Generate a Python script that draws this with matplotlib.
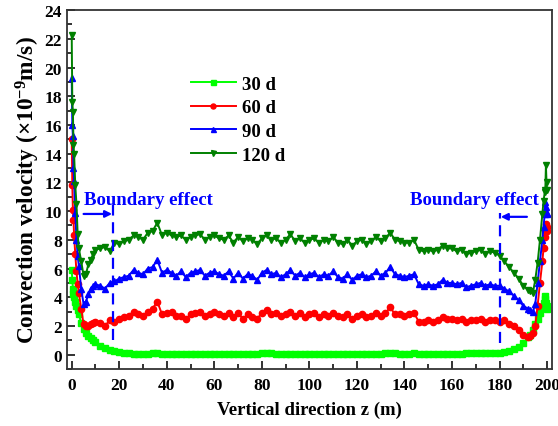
import matplotlib
matplotlib.use("Agg")
import matplotlib.pyplot as plt
from matplotlib.ticker import MultipleLocator

plt.rcParams['font.family'] = ['Liberation Serif', 'DejaVu Serif']
plt.rcParams['font.weight'] = 'bold'
plt.rcParams['mathtext.fontset'] = 'custom'
plt.rcParams['mathtext.rm'] = 'Liberation Serif:bold'
plt.rcParams['mathtext.bf'] = 'Liberation Serif:bold'
plt.rcParams['mathtext.default'] = 'bf'

# depth of the sampling points (m), refined near both boundaries
z = [0, 0.25, 0.5, 0.75, 1, 1.5, 2, 2.5, 3, 4, 5, 6, 7, 8, 9, 10,
     12, 14, 16, 18, 20, 22, 24, 26, 28, 30, 32, 34, 36, 38, 40,
     42, 44, 46, 48, 50, 52, 54, 56, 58, 60, 62, 64, 66, 68, 70,
     72, 74, 76, 78, 80, 82, 84, 86, 88, 90, 92, 94, 96, 98, 100,
     102, 104, 106, 108, 110, 112, 114, 116, 118, 120, 122, 124, 126, 128, 130,
     132, 134, 136, 138, 140, 142, 144, 146, 148, 150, 152, 154, 156, 158, 160,
     162, 164, 166, 168, 170, 172, 174, 176, 178, 180, 182, 184, 186, 188, 190,
     192, 193, 194, 195, 196, 197, 198, 198.5, 199, 199.25, 199.5, 199.75, 200]

v30 = [5.9, 5.2, 4.6, 4.2, 4.0, 3.7, 3.4, 3.1, 2.8, 2.2, 1.8, 1.5, 1.3, 1.15, 1.0, 0.85,
       0.6, 0.45, 0.35, 0.25, 0.18, 0.12, 0.08, 0.05, 0.05, 0.04, 0.06, 0.08, 0.12, 0.06, 0.05,
       0.05, 0.04, 0.04, 0.05, 0.05, 0.04, 0.05, 0.04, 0.05, 0.06, 0.05, 0.04, 0.05, 0.06, 0.05,
       0.05, 0.06, 0.05, 0.05, 0.08, 0.1, 0.08, 0.06, 0.05, 0.05, 0.06, 0.06, 0.05, 0.06, 0.07,
       0.06, 0.05, 0.05, 0.06, 0.06, 0.05, 0.06, 0.07, 0.06, 0.05, 0.06, 0.05, 0.06, 0.07, 0.06,
       0.08, 0.12, 0.08, 0.06, 0.06, 0.07, 0.08, 0.06, 0.05, 0.05, 0.05, 0.06, 0.06, 0.05, 0.06,
       0.06, 0.07, 0.08, 0.08, 0.08, 0.09, 0.1, 0.11, 0.12, 0.14, 0.2, 0.28, 0.4, 0.55, 0.8,
       1.2, 1.4, 1.7, 2.1, 2.5, 2.9, 3.3, 3.6, 4.1, 3.9, 3.6, 3.4, 3.2]

v60 = [15.0, 11.8, 10.1, 9.4, 8.3, 7.0, 5.8, 4.9, 4.3, 3.2, 2.1, 2.0, 2.0, 2.1, 2.2, 2.3,
       2.2, 2.0, 2.4, 2.3, 2.5, 2.6, 2.7, 3.0, 2.8, 2.7, 3.0, 3.2, 3.7, 2.8, 2.9,
       3.0, 2.7, 2.7, 2.5, 2.8, 2.9, 3.0, 2.7, 2.8, 3.0, 2.8, 2.7, 2.9, 2.6, 2.9,
       2.5, 2.8, 2.6, 2.5, 2.9, 3.1, 2.8, 2.9, 2.7, 2.8, 3.0, 2.7, 2.9, 2.6, 2.8,
       2.9, 2.6, 2.8, 2.7, 2.9, 2.7, 2.6, 2.8, 2.5, 2.7, 2.8, 2.6, 2.7, 2.9, 2.7,
       2.9, 3.3, 2.8, 2.8, 2.7, 2.8, 2.9, 2.3, 2.3, 2.4, 2.3, 2.4, 2.6, 2.5, 2.5,
       2.4, 2.5, 2.3, 2.4, 2.4, 2.5, 2.3, 2.4, 2.4, 2.3, 2.4, 2.1, 2.0, 1.7, 1.4,
       1.2, 1.3, 1.5, 2.0, 3.4, 5.0, 6.5, 7.4, 8.2, 8.7, 9.1, 8.9, 8.6]

v90 = [19.3, 16.0, 15.2, 13.0, 12.1, 9.9, 8.0, 6.9, 6.2, 4.6, 3.5, 3.7, 4.2, 4.6, 4.8, 4.9,
       4.8, 4.6, 5.0, 5.1, 5.3, 5.4, 5.5, 5.9, 5.7, 5.6, 6.0, 6.1, 6.6, 5.7, 5.9,
       5.7, 5.5, 5.8, 5.4, 5.7, 5.8, 5.9, 5.5, 5.7, 5.8, 5.6, 5.5, 5.8, 5.3, 5.7,
       5.3, 5.6, 5.5, 5.2, 5.7, 5.9, 5.6, 5.7, 5.4, 5.6, 5.9, 5.5, 5.7, 5.4, 5.6,
       5.7, 5.4, 5.6, 5.5, 5.8, 5.4, 5.3, 5.6, 5.2, 5.5, 5.6, 5.4, 5.5, 5.8, 5.5,
       5.7, 6.1, 5.6, 5.5, 5.4, 5.5, 5.6, 4.9, 4.8, 4.9, 4.8, 4.9, 5.2, 5.0, 5.0,
       4.9, 5.0, 4.7, 4.8, 4.9, 5.0, 4.8, 4.9, 4.8, 4.8, 4.6, 4.4, 4.1, 3.8, 3.4,
       3.2, 3.1, 3.0, 3.5, 5.0, 6.5, 8.0, 8.9, 9.8, 10.6, 10.3, 9.8, 9.9]

v120 = [22.3, 17.6, 16.9, 14.6, 14.0, 11.8, 10.5, 8.4, 7.4, 6.5, 5.5, 5.6, 6.3, 6.6, 7.0, 7.3,
        7.4, 7.5, 7.2, 7.8, 7.7, 7.9, 8.0, 8.3, 8.2, 8.0, 8.5, 8.6, 9.2, 8.3, 8.5,
        8.3, 8.2, 8.3, 8.0, 8.2, 8.3, 8.4, 8.0, 8.2, 8.3, 8.1, 8.0, 8.3, 7.8, 8.2,
        7.9, 8.1, 8.0, 7.7, 8.1, 8.3, 8.0, 8.1, 7.8, 8.0, 8.4, 7.9, 8.1, 7.8, 8.0,
        8.1, 7.8, 8.0, 7.9, 8.2, 7.8, 7.7, 8.0, 7.6, 7.9, 8.0, 7.7, 7.9, 8.2, 7.9,
        8.1, 8.5, 8.0, 7.9, 7.8, 7.8, 8.0, 7.3, 7.2, 7.3, 7.2, 7.3, 7.6, 7.4, 7.4,
        7.2, 7.3, 7.0, 7.1, 7.2, 7.3, 7.0, 7.2, 7.1, 6.9, 6.5, 6.1, 5.7, 5.3, 4.8,
        4.5, 4.4, 4.3, 5.2, 6.4, 8.0, 9.8, 10.7, 11.3, 11.5, 13.2, 12.0, 11.5]

series = [
    ("30 d", v30, "#00ff00", "s"),
    ("60 d", v60, "#ff0000", "o"),
    ("90 d", v90, "#0000ff", "^"),
    ("120 d", v120, "#008000", "v"),
]

# extent of the boundary-affected zones (m)
left_edge = 17.5
right_edge = 180
blue = "#0000ff"

fig = plt.figure(figsize=(5.58, 4.27), dpi=100)
ax = fig.add_axes([0.120, 0.1335, 0.869, 0.8405])

for label, vals, color, marker in series:
    ax.plot(z, vals, color=color, marker=marker, markersize=4.5, linewidth=1.4,
            label=label)

ax.set_xlim(-2, 202)
ax.set_ylim(-1, 24)
ax.xaxis.set_major_locator(MultipleLocator(20))
ax.xaxis.set_minor_locator(MultipleLocator(10))
ax.yaxis.set_major_locator(MultipleLocator(2))
ax.yaxis.set_minor_locator(MultipleLocator(1))
ax.tick_params(which='both', direction='in', top=False, right=False,
               labelsize=12.5, width=1.3, colors='#222222')
ax.tick_params(which='major', length=6)
ax.tick_params(which='minor', length=3.5)
ax.tick_params(axis='x', pad=6)
for lbl in ax.get_xticklabels() + ax.get_yticklabels():
    lbl.set_fontweight('bold')
    lbl.set_color('black')
for sp in ax.spines.values():
    sp.set_linewidth(1.3)
    sp.set_color('#333333')

ax.set_xlabel("Vertical direction z (m)", fontsize=13.5, fontweight='bold',
              labelpad=5)
ax.set_ylabel(r"Convection velocity (×10$^{-9}$m/s)", fontsize=16.8,
              fontweight='bold', labelpad=2)

# boundary zones: dashed limits, arrows and labels
ax.plot([left_edge, left_edge], [1.0, 10.4], color=blue, linestyle=(0, (5, 3)),
        linewidth=1.6)
ax.plot([right_edge, right_edge], [0.8, 9.9], color=blue, linestyle=(0, (5, 3)),
        linewidth=1.6)
ax.annotate("", xy=(left_edge - 0.5, 9.8), xytext=(5, 9.8),
            arrowprops=dict(arrowstyle='-|>', color=blue, lw=1.6,
                            mutation_scale=10, shrinkA=0, shrinkB=0))
ax.annotate("", xy=(right_edge + 0.5, 9.6), xytext=(191.5, 9.6),
            arrowprops=dict(arrowstyle='-|>', color=blue, lw=1.6,
                            mutation_scale=10, shrinkA=0, shrinkB=0))
ax.text(5, 10.8, "Boundary effect", color=blue, fontsize=13.5,
        fontweight='bold', ha='left', va='center')
ax.text(196.5, 10.8, "Boundary effect", color=blue, fontsize=13.5,
        fontweight='bold', ha='right', va='center')

leg = ax.legend(loc='upper left', bbox_to_anchor=(0.22, 0.865), frameon=False,
                fontsize=13.5, handlelength=2.4, handletextpad=0.35,
                labelspacing=0.35, markerscale=0.8)
for t in leg.get_texts():
    t.set_fontweight('bold')

fig.savefig("out.png", dpi=100, facecolor='white')
